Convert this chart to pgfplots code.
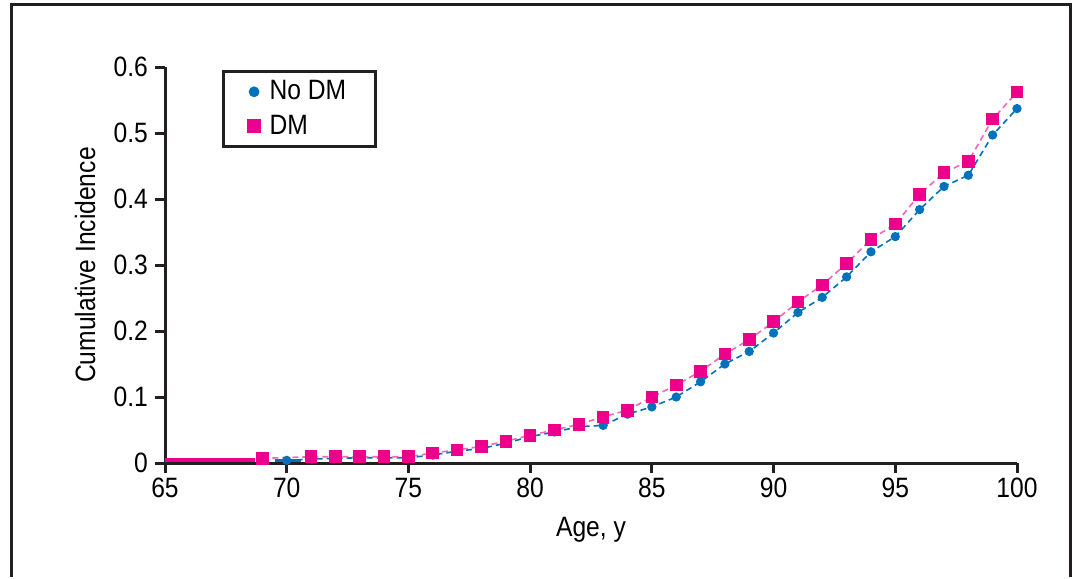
\documentclass[border=0pt]{standalone}
\usepackage{fontspec}
\setmainfont{Liberation Sans}[FakeStretch=0.88]
\usepackage{pgfplots}
\pgfplotsset{compat=1.18}
\definecolor{dmpink}{HTML}{EC008C}
\definecolor{nodmblue}{HTML}{0072BC}
\definecolor{axdark}{HTML}{231F20}
\begin{document}
\begin{tikzpicture}
\path (0,0) rectangle (540pt,288.5pt);
\draw[axdark,line width=1.5pt] (5.5pt,0) -- (5.5pt,286pt) -- (535pt,286pt) -- (535pt,0);
\begin{axis}[
  at={(82.5pt,57pt)}, anchor=south west,
  scale only axis, width=426pt, height=198pt,
  xmin=65, xmax=100, ymin=0, ymax=0.6,
  axis lines=left, axis line style={axdark,line width=1.5pt,-},
  xtick={65,70,...,100}, ytick={0,0.1,...,0.6},
  yticklabels={0,0.1,0.2,0.3,0.4,0.5,0.6},
  tick style={axdark,line width=1.5pt},
  tick align=outside, major tick length=5pt,
  /pgf/number format/assume math mode=true,
  ticklabel style={font=\fontsize{14}{14}\selectfont, text=black},
  xticklabel style={yshift=1pt},
  xlabel={Age, y}, ylabel={Cumulative Incidence},
  label style={font=\fontsize{14}{14}\selectfont},
  xlabel style={at={(rel axis cs:0.5,0)}, anchor=center, yshift=-33.5pt},
  ylabel style={at={(rel axis cs:0,0.5)}, anchor=center, yshift=40pt},
  legend style={at={(rel axis cs:0.067,0.992)}, anchor=north west,
    draw=axdark, line width=1.5pt, font=\fontsize{14}{17.5}\selectfont,
    inner xsep=12.5pt, inner ysep=2.5pt, cells={anchor=west},
    row sep=2pt, column sep=3pt},
  legend cell align=left,
  clip=false,
]
\addlegendimage{only marks, mark=*, mark size=1.9pt, nodmblue}
\addlegendentry{No DM}
\addlegendimage{only marks, mark=square*, mark size=2.75pt, dmpink}
\addlegendentry{DM}
\addplot[nodmblue, densely dashed, line width=0.8pt, mark=*, mark size=1.9pt,
  mark options={solid}, forget plot] coordinates {
(70,0.004) (71,0.006) (72,0.007) (73,0.008) (74,0.008) (75,0.008)
(76,0.012) (77,0.018) (78,0.022) (79,0.030) (80,0.040) (81,0.047)
(82,0.055) (83,0.057) (84,0.074) (85,0.085) (86,0.100) (87,0.123)
(88,0.150) (89,0.169) (90,0.197) (91,0.228) (92,0.251) (93,0.282)
(94,0.320) (95,0.343) (96,0.384) (97,0.419) (98,0.436) (99,0.497)
(100,0.537)};
\addplot[dmpink!60, densely dashed, line width=0.8pt, mark=square*, mark size=2.75pt,
  mark options={solid,dmpink}, forget plot] coordinates {
(69,0.007) (71,0.0095) (72,0.0095) (73,0.0095) (74,0.0095) (75,0.0095)
(76,0.015) (77,0.020) (78,0.025) (79,0.033) (80,0.042) (81,0.050)
(82,0.0586) (83,0.070) (84,0.080) (85,0.100) (86,0.118) (87,0.139)
(88,0.165) (89,0.187) (90,0.214) (91,0.244) (92,0.270) (93,0.302)
(94,0.339) (95,0.362) (96,0.407) (97,0.440) (98,0.457) (99,0.521)
(100,0.562)};
\addplot[dmpink, line width=1.6pt, forget plot] coordinates {(65,0.0045) (68.7,0.0045)};
\addplot[nodmblue, line width=1.6pt, forget plot] coordinates {(69.5,0.004) (70.6,0.004)};
\end{axis}
\end{tikzpicture}
\end{document}
